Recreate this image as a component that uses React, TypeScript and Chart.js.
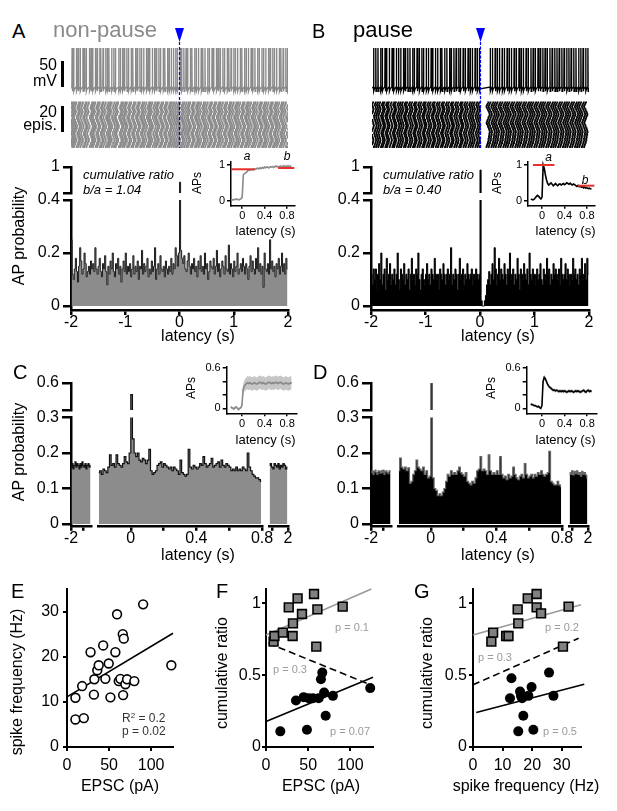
import React, { useEffect, useRef } from "react";
import { Chart, registerables } from "chart.js";

Chart.register(...registerables);

const FONT = "'Liberation Sans', Arial, Helvetica, sans-serif";
Chart.defaults.font.family = FONT;
Chart.defaults.color = "#000";

/* ============================ DATA ============================ */

// A / B : AP probability histograms, 20 ms bins from -2 s to 2 s
const PSTH_START = -2;
const PSTH_BIN = 0.02;
const A_PSTH = [
  0.25, 0.12, 0.10, 0.14, 0.18, 0.13, 0.09, 0.15, 0.22, 0.17,
  0.12, 0.14, 0.20, 0.16, 0.11, 0.13, 0.15, 0.12, 0.17, 0.14,
  0.16, 0.13, 0.22, 0.14, 0.12, 0.15, 0.18, 0.13, 0.11, 0.16,
  0.14, 0.19, 0.13, 0.08, 0.15, 0.12, 0.17, 0.14, 0.20, 0.13,
  0.11, 0.16, 0.14, 0.18, 0.12, 0.15, 0.09, 0.14, 0.17, 0.13,
  0.20, 0.12, 0.15, 0.13, 0.16, 0.11, 0.14, 0.19, 0.12, 0.15,
  0.13, 0.17, 0.10, 0.15, 0.14, 0.21, 0.12, 0.16, 0.13, 0.15,
  0.18, 0.11, 0.14, 0.12, 0.17, 0.13, 0.15, 0.22, 0.10, 0.14,
  0.16, 0.12, 0.19, 0.14, 0.13, 0.15, 0.11, 0.17, 0.14, 0.12,
  0.15, 0.13, 0.18, 0.12, 0.16, 0.14, 0.22, 0.19, 0.15, 0.20,
  0.65, 0.21, 0.18, 0.16, 0.19, 0.14, 0.13, 0.17, 0.20, 0.15,
  0.12, 0.16, 0.14, 0.18, 0.13, 0.15, 0.11, 0.17, 0.14, 0.19,
  0.13, 0.15, 0.12, 0.20, 0.14, 0.16, 0.10, 0.13, 0.17, 0.15,
  0.14, 0.18, 0.12, 0.15, 0.21, 0.13, 0.16, 0.11, 0.14, 0.17,
  0.15, 0.12, 0.19, 0.14, 0.13, 0.23, 0.12, 0.16, 0.14, 0.11,
  0.17, 0.13, 0.15, 0.20, 0.12, 0.14, 0.16, 0.13, 0.18, 0.15,
  0.12, 0.16, 0.14, 0.10, 0.15, 0.19, 0.13, 0.17, 0.14, 0.12,
  0.18, 0.14, 0.22, 0.13, 0.16, 0.12, 0.15, 0.07, 0.20, 0.14,
  0.13, 0.16, 0.12, 0.25, 0.14, 0.17, 0.13, 0.15, 0.11, 0.16,
  0.14, 0.18, 0.12, 0.15, 0.20, 0.13, 0.16, 0.12, 0.18, 0.14,
];
const B_PSTH = [
  0.12, 0.08, 0.14, 0.10, 0.14, 0.06, 0.12, 0.16, 0.10, 0.20,
  0.08, 0.12, 0.14, 0.06, 0.18, 0.10, 0.12, 0.16, 0.08, 0.12,
  0.10, 0.14, 0.08, 0.12, 0.20, 0.10, 0.06, 0.14, 0.12, 0.10,
  0.16, 0.08, 0.12, 0.10, 0.14, 0.06, 0.12, 0.18, 0.10, 0.12,
  0.08, 0.14, 0.12, 0.20, 0.10, 0.06, 0.12, 0.14, 0.10, 0.08,
  0.12, 0.16, 0.10, 0.12, 0.08, 0.14, 0.12, 0.10, 0.18, 0.12,
  0.10, 0.12, 0.06, 0.14, 0.12, 0.10, 0.16, 0.12, 0.08, 0.12,
  0.14, 0.10, 0.12, 0.22, 0.08, 0.12, 0.10, 0.14, 0.12, 0.06,
  0.12, 0.18, 0.10, 0.12, 0.14, 0.08, 0.12, 0.10, 0.16, 0.12,
  0.10, 0.12, 0.14, 0.08, 0.12, 0.10, 0.14, 0.12, 0.10, 0.12,
  0.93, 0.02, 0.00, 0.00, 0.02, 0.04, 0.08, 0.10, 0.13, 0.08,
  0.12, 0.16, 0.10, 0.22, 0.14, 0.08, 0.12, 0.18, 0.10, 0.14,
  0.12, 0.10, 0.16, 0.12, 0.08, 0.14, 0.12, 0.20, 0.10, 0.12,
  0.14, 0.08, 0.12, 0.10, 0.18, 0.12, 0.06, 0.14, 0.12, 0.10,
  0.16, 0.12, 0.10, 0.14, 0.08, 0.20, 0.12, 0.10, 0.14, 0.12,
  0.08, 0.12, 0.14, 0.10, 0.12, 0.16, 0.10, 0.08, 0.14, 0.12,
  0.10, 0.18, 0.12, 0.14, 0.08, 0.12, 0.10, 0.16, 0.12, 0.14,
  0.12, 0.10, 0.14, 0.08, 0.18, 0.12, 0.10, 0.12, 0.16, 0.10,
  0.14, 0.12, 0.08, 0.12, 0.10, 0.18, 0.12, 0.14, 0.10, 0.12,
  0.08, 0.14, 0.12, 0.18, 0.10, 0.12, 0.16, 0.10, 0.18, 0.12,
];

// C / D : population histograms, broken latency axis (3 segments)
const SEG1_START = -2;
const SEG1_BIN = 0.04;
const SEG2_START = -0.2;
const SEG2_BIN = 0.01;
const SEG3_START = 1.4;
const SEG3_BIN = 0.04;
const C_SEG1 = [0.16, 0.17, 0.155, 0.165, 0.175, 0.16, 0.17, 0.165, 0.155, 0.17, 0.16, 0.175, 0.165, 0.16, 0.17, 0.155, 0.165, 0.17, 0.16, 0.165];
const C_SEG2 = [
  0.145, 0.15, 0.14, 0.155, 0.15, 0.145, 0.16, 0.195, 0.165, 0.17,
  0.16, 0.195, 0.17, 0.165, 0.16, 0.17, 0.19, 0.175, 0.17, 0.2,
  0.47, 0.24, 0.2, 0.19, 0.2, 0.18, 0.175, 0.185, 0.18, 0.17,
  0.18, 0.21, 0.15, 0.14, 0.145, 0.15, 0.165, 0.17, 0.175, 0.16,
  0.17, 0.165, 0.16, 0.155, 0.16, 0.15, 0.16, 0.155, 0.15, 0.14,
  0.18, 0.145, 0.14, 0.135, 0.14, 0.21, 0.16, 0.155, 0.165, 0.16,
  0.155, 0.16, 0.17, 0.165, 0.19, 0.17, 0.16, 0.165, 0.17, 0.185,
  0.16, 0.165, 0.17, 0.175, 0.16, 0.18, 0.165, 0.16, 0.17, 0.165,
  0.16, 0.15, 0.155, 0.15, 0.16, 0.15, 0.155, 0.15, 0.16, 0.155,
  0.15, 0.2, 0.16, 0.15, 0.14, 0.135, 0.13, 0.13, 0.125, 0.12,
];
const C_SEG3 = [0.165, 0.17, 0.16, 0.155, 0.17, 0.165, 0.16, 0.17, 0.155, 0.165, 0.16, 0.17, 0.165, 0.155, 0.16];
const D_SEG1 = [0.145, 0.15, 0.14, 0.148, 0.152, 0.145, 0.14, 0.15, 0.148, 0.143, 0.15, 0.145, 0.152, 0.14, 0.148, 0.15, 0.145, 0.142, 0.15, 0.148];
const D_SEG2 = [
  0.15, 0.186, 0.16, 0.155, 0.16, 0.15, 0.158, 0.115, 0.12, 0.14,
  0.15, 0.18, 0.16, 0.155, 0.15, 0.16, 0.14, 0.15, 0.13, 0.135,
  0.6, 0.13, 0.1, 0.095, 0.08, 0.085, 0.08, 0.09, 0.1, 0.12,
  0.14, 0.135, 0.15, 0.14, 0.145, 0.14, 0.15, 0.16, 0.145, 0.14,
  0.135, 0.145, 0.12, 0.115, 0.11, 0.12, 0.115, 0.13, 0.15, 0.155,
  0.19, 0.15, 0.155, 0.15, 0.14, 0.195, 0.15, 0.14, 0.145, 0.14,
  0.15, 0.14, 0.19, 0.14, 0.13, 0.135, 0.125, 0.14, 0.13, 0.135,
  0.16, 0.14, 0.13, 0.125, 0.135, 0.14, 0.13, 0.17, 0.14, 0.13,
  0.135, 0.14, 0.13, 0.14, 0.135, 0.145, 0.14, 0.15, 0.14, 0.135,
  0.14, 0.145, 0.205, 0.12, 0.115, 0.11, 0.11, 0.12, 0.11, 0.105,
];
const D_SEG3 = [0.145, 0.14, 0.15, 0.138, 0.148, 0.142, 0.15, 0.14, 0.145, 0.135, 0.148, 0.14, 0.145, 0.138, 0.13];

// insets: cumulative APs, 20 ms steps from -0.2 s
const INSET_START = -0.2;
const INSET_STEP = 0.02;
const A_CUM = [
  0.02, 0.03, 0.02, 0.04, 0.03, 0.05, 0.03, 0.02, 0.04, 0.06,
  0.10, 0.72, 0.76, 0.78, 0.80, 0.84, 0.86, 0.85, 0.87, 0.88,
  0.86, 0.89, 0.88, 0.90, 0.91, 0.89, 0.92, 0.90, 0.93, 0.91,
  0.94, 0.92, 0.95, 0.93, 0.92, 0.95, 0.94, 0.96, 0.93, 0.95,
  0.97, 0.95, 0.96, 0.94, 0.97, 0.95, 0.96, 0.98, 0.95, 0.97,
  0.96, 0.98, 0.95, 0.97, 0.96,
];
const B_CUM = [
  0.05, 0.03, 0.02, 0.04, 0.08, 0.12, 0.15, 0.12, 0.08, 0.05,
  0.10, 1.00, 0.90, 0.72, 0.58, 0.48, 0.44, 0.47, 0.50, 0.46,
  0.42, 0.45, 0.48, 0.44, 0.42, 0.46, 0.47, 0.44, 0.46, 0.48,
  0.45, 0.47, 0.50, 0.48, 0.46, 0.49, 0.46, 0.44, 0.47, 0.45,
  0.42, 0.40, 0.43, 0.39, 0.41, 0.38, 0.40, 0.36, 0.38, 0.35,
  0.36, 0.34, 0.35, 0.33, 0.34,
];
const C_CUM = [
  0.02, 0.01, 0.0, -0.01, 0.01, 0.02, 0.0, -0.02, 0.0, 0.01,
  0.04, 0.28, 0.33, 0.35, 0.37, 0.38, 0.37, 0.38, 0.37, 0.36,
  0.37, 0.38, 0.37, 0.36, 0.37, 0.38, 0.39, 0.38, 0.37, 0.38,
  0.37, 0.36, 0.37, 0.38, 0.39, 0.38, 0.37, 0.38, 0.37, 0.38,
  0.39, 0.38, 0.37, 0.38, 0.39, 0.38, 0.37, 0.36, 0.37, 0.38,
  0.37, 0.36, 0.37, 0.38, 0.37,
];
const C_SEM = [
  0.02, 0.02, 0.02, 0.02, 0.02, 0.02, 0.02, 0.02, 0.02, 0.02,
  0.03, 0.07, 0.08, 0.09, 0.09, 0.10, 0.10, 0.10, 0.10, 0.10,
  0.10, 0.10, 0.10, 0.10, 0.10, 0.10, 0.10, 0.10, 0.10, 0.10,
  0.10, 0.10, 0.10, 0.10, 0.10, 0.10, 0.10, 0.10, 0.10, 0.10,
  0.10, 0.10, 0.10, 0.10, 0.10, 0.10, 0.10, 0.10, 0.10, 0.10,
  0.10, 0.10, 0.10, 0.10, 0.10,
];
const D_CUM = [
  0.05, 0.06, 0.05, 0.04, 0.04, 0.03, 0.02, 0.03, 0.01, 0.0,
  0.04, 0.40, 0.46, 0.44, 0.40, 0.36, 0.33, 0.31, 0.30, 0.28,
  0.27, 0.27, 0.26, 0.27, 0.26, 0.25, 0.26, 0.25, 0.26, 0.25,
  0.26, 0.25, 0.24, 0.25, 0.26, 0.25, 0.26, 0.25, 0.24, 0.25,
  0.26, 0.25, 0.26, 0.25, 0.24, 0.25, 0.26, 0.27, 0.25, 0.24,
  0.26, 0.27, 0.25, 0.26, 0.25,
];
const D_SEM = [
  0.015, 0.015, 0.015, 0.015, 0.015, 0.015, 0.015, 0.015, 0.015, 0.015,
  0.02, 0.04, 0.04, 0.035, 0.03, 0.03, 0.025, 0.025, 0.025, 0.025,
  0.025, 0.025, 0.025, 0.025, 0.025, 0.025, 0.025, 0.025, 0.025, 0.025,
  0.025, 0.025, 0.025, 0.025, 0.025, 0.025, 0.025, 0.025, 0.025, 0.025,
  0.025, 0.025, 0.025, 0.025, 0.025, 0.025, 0.025, 0.025, 0.025, 0.025,
  0.025, 0.025, 0.025, 0.025, 0.025,
];
// measurement windows [from, to, level]
const A_WIN_A = [-0.2, 0.22, 0.88];
const A_WIN_B = [0.64, 0.93, 0.915];
const B_WIN_A = [-0.16, 0.22, 1.0];
const B_WIN_B = [0.64, 0.93, 0.42];

// example recordings: spike times (s)
const V_REST = -65;
const V_PEAK = 20;
const A_SPIKES = [
  -1.98, -1.95, -1.90, -1.87, -1.83, -1.78, -1.76, -1.72, -1.66, -1.63, -1.60, -1.55, -1.52, -1.47, -1.45,
  -1.41, -1.36, -1.33, -1.30, -1.25, -1.21, -1.18, -1.12, -1.09, -1.05, -1.02, -0.97, -0.94, -0.89, -0.86,
  -0.81, -0.78, -0.73, -0.70, -0.66, -0.61, -0.58, -0.55, -0.50, -0.46, -0.43, -0.38, -0.35, -0.30, -0.27,
  -0.22, -0.19, -0.15, -0.11, -0.07, -0.04, 0.01, 0.04, 0.08, 0.12, 0.15, 0.20, 0.23, 0.28, 0.31,
  0.35, 0.40, 0.43, 0.47, 0.52, 0.55, 0.60, 0.63, 0.68, 0.71, 0.75, 0.80, 0.83, 0.88, 0.91,
  0.95, 1.00, 1.03, 1.07, 1.12, 1.15, 1.20, 1.23, 1.27, 1.32, 1.35, 1.39, 1.44, 1.47, 1.52,
  1.55, 1.59, 1.64, 1.67, 1.72, 1.75, 1.79, 1.84, 1.87, 1.91, 1.96, 1.99,
];
const B_SPIKES_PRE = [
  -1.97, -1.93, -1.89, -1.84, -1.81, -1.76, -1.73, -1.68, -1.63, -1.60, -1.55, -1.51, -1.47, -1.42, -1.39,
  -1.34, -1.30, -1.25, -1.22, -1.17, -1.13, -1.08, -1.05, -1.00, -0.96, -0.91, -0.88, -0.83, -0.79, -0.74,
  -0.71, -0.66, -0.62, -0.57, -0.54, -0.49, -0.45, -0.40, -0.37, -0.32, -0.28, -0.23, -0.19, -0.15, -0.10,
  -0.06, -0.02,
];
const B_SPIKES_POST = [
  0.18, 0.22, 0.27, 0.31, 0.35, 0.40, 0.44, 0.49, 0.53, 0.57, 0.62, 0.66, 0.71, 0.75, 0.79,
  0.84, 0.88, 0.93, 0.97, 1.01, 1.06, 1.10, 1.15, 1.19, 1.23, 1.28, 1.32, 1.37, 1.41, 1.45,
  1.50, 1.54, 1.59, 1.63, 1.67, 1.72, 1.76, 1.81, 1.85, 1.89, 1.94, 1.98,
];
// raster episodes: time offset of each episode's spike train (s)
const A_RASTER_SHIFT = [
  0.004, 0.010, 0.029, 0.027, 0.049, 0.048, 0.051, 0.034, 0.033, 0.017, 0.019, 0.021, 0.040, 0.039, 0.058, 0.059, 0.062,
  0.045, 0.044, 0.026, 0.025, 0.008, 0.007, 0.010, 0.031, 0.032, 0.049, 0.036, 0.031, 0.016, 0.029, 0.034, 0.048, 0.050,
];
const B_RASTER_SHIFT_PRE = [
  0.006, 0.015, 0.022, 0.034, 0.039, 0.047, 0.041, 0.036, 0.025, 0.021, 0.010, 0.016, 0.027, 0.031, 0.044, 0.049, 0.056,
  0.046, 0.043, 0.031, 0.028, 0.014, 0.012, 0.005, 0.018, 0.022, 0.037, 0.041, 0.050, 0.038, 0.035, 0.020, 0.027, 0.040,
];
const B_RASTER_SHIFT_POST = [
  -0.070, -0.061, -0.055, -0.043, -0.040, -0.028, -0.033, -0.022, -0.025, -0.013, -0.017, -0.006, -0.012, -0.020, -0.027, -0.041, -0.046,
  -0.060, -0.068, -0.057, -0.049, -0.036, -0.031, -0.018, -0.009, -0.015, -0.024, -0.039, -0.047, -0.063, -0.071, -0.060, -0.048, -0.035,
];

// E : spike frequency vs EPSC
const E_EPSC = [10, 20, 10, 18, 28, 32, 32.5, 36, 37.7, 43, 45.6, 49.6, 51.6, 57.5, 59.5, 61.5, 63.5, 66.3, 67.5, 66.7, 69.4, 71.4, 80, 90.5, 124];
const E_FREQ = [6.1, 6.4, 10.9, 13.5, 21, 11.6, 15, 17, 18.1, 22.5, 15.1, 18.5, 11, 21, 29.4, 14.6, 15.1, 25, 24, 11.5, 13.9, 15, 14.6, 31.6, 18.1];
const E_FIT_X = [0, 126];
const E_FIT_Y = [11.1, 25.2];

// F : cumulative ratio vs EPSC (squares = non-pause, circles = pause)
const F_SQ_EPSC = [9, 10, 20, 27, 31.6, 32, 37.5, 42.7, 57, 59.7, 61, 91];
const F_SQ_RATIO = [0.734, 0.773, 0.796, 0.972, 0.773, 0.861, 1.035, 0.926, 1.065, 0.699, 0.958, 0.977];
const F_CI_EPSC = [17, 48.6, 35.6, 44.7, 50.6, 55.7, 62.5, 65.2, 66.8, 69, 70.8, 79.4, 123.7];
const F_CI_RATIO = [0.109, 0.12, 0.324, 0.347, 0.34, 0.34, 0.34, 0.472, 0.518, 0.38, 0.218, 0.356, 0.41];
const F_FIT_SQ = [[0, 0.78], [125, 1.1]];
const F_FIT_ALL = [[3, 0.722], [124, 0.433]];
const F_FIT_CI = [[0, 0.178], [127, 0.486]];

// G : cumulative ratio vs spike frequency
const G_SQ_FREQ = [6.2, 6.8, 11.2, 12.0, 15.1, 15.3, 18.5, 21.5, 21.5, 23, 30.4, 32.3];
const G_SQ_RATIO = [0.734, 0.796, 0.773, 0.773, 0.958, 0.861, 1.035, 1.065, 0.972, 0.93, 0.699, 0.977];
const G_CI_FREQ = [12.5, 13, 15.3, 15.9, 16.2, 16.6, 17, 18.7, 19.8, 20.4, 25.7, 27.2];
const G_CI_RATIO = [0.34, 0.479, 0.109, 0.387, 0.356, 0.34, 0.218, 0.356, 0.417, 0.12, 0.518, 0.356];
const G_FIT_SQ = [[0, 0.78], [36.5, 0.99]];
const G_FIT_ALL = [[0, 0.433], [35.7, 0.757]];
const G_FIT_CI = [[1.1, 0.24], [37.6, 0.437]];

/* ============================ STYLE ============================ */
const GRAY_FILL = "#8c8c8c";
const GRAY_TRACE = "#8a8a8a";
const SQ_FILL = "#808080";
const FIT_GRAY = "#9a9a9a";
const TXT_GRAY = "#9a9a9a";
const RED = "#e8312a";
const BLUE = "#0000ff";

/* ============================ HELPERS ============================ */
const xy = (xs: number[], ys: number[]) => xs.map((x, i) => ({ x, y: ys[i] }));
const pairs = (p: number[][]) => p.map(([x, y]) => ({ x, y }));
const binned = (vals: number[], start: number, bin: number) => vals.map((v, i) => ({ x: start + bin * (i + 0.5), y: v }));
const sampled = (vals: number[], start: number, step: number) => vals.map((v, i) => ({ x: +(start + step * i).toFixed(3), y: v }));

function ax(o: any) {
  if (o.hide) return { type: "linear", min: o.min, max: o.max, display: false };
  const lw = o.lw ?? 2;
  return {
    type: "linear",
    min: o.min,
    max: o.max,
    display: true,
    position: o.dir === "x" ? "bottom" : "left",
    afterBuildTicks: (s: any) => {
      s.ticks = o.ticks.map((v: number) => ({ value: v }));
    },
    afterFit: (s: any) => {
      if (o.dir === "x") s.height = o.size;
      else s.width = o.size;
    },
    grid: { display: true, drawOnChartArea: false, drawTicks: true, tickLength: o.tick ?? 5, tickWidth: lw, tickColor: "#000", lineWidth: lw, color: "#000" },
    border: { display: true, width: lw, color: "#000" },
    ticks: {
      autoSkip: false,
      maxRotation: 0,
      minRotation: 0,
      padding: o.pad ?? 0,
      color: "#000",
      font: { family: FONT, size: o.font ?? 16, lineHeight: 1 },
      callback: (_v: any, i: number) => o.labels[i],
    },
  };
}

function histDS(vals: number[], start: number, bin: number, fill: string, stroke: string, sw = 1) {
  return {
    type: "line",
    data: binned(vals, start, bin),
    stepped: "middle",
    fill: "origin",
    backgroundColor: fill,
    borderColor: stroke,
    borderWidth: sw,
    pointRadius: 0,
    clip: 0,
  };
}

function lineDS(data: any[], color: string, width = 1.5, dash: number[] = []) {
  return { type: "line", data, borderColor: color, borderWidth: width, borderDash: dash, pointRadius: 0, tension: 0, fill: false, clip: false };
}

function cfg(datasets: any[], scales: any, plugins: any[] = []) {
  return { type: "line", data: { datasets }, options: { scales }, plugins };
}

function tracePts(spikes: number[]) {
  const pts: any[] = [{ x: -2, y: V_REST }];
  for (const t of spikes) {
    pts.push({ x: t - 0.004, y: V_REST + 2 }, { x: t, y: V_PEAK }, { x: t + 0.004, y: V_REST - 7 }, { x: t + 0.015, y: V_REST - 2 });
  }
  pts.push({ x: 2, y: V_REST });
  return pts;
}

function rasterA() {
  const pts: any[] = [];
  A_RASTER_SHIFT.forEach((s, r) =>
    A_SPIKES.forEach((t) => {
      let u = t + s;
      if (u >= 2) u -= 4;
      pts.push({ x: u, y: r });
    })
  );
  return pts;
}

function rasterB() {
  const pts: any[] = [];
  B_RASTER_SHIFT_PRE.forEach((s, r) => {
    B_SPIKES_PRE.forEach((t) => {
      let u = t + s;
      if (u >= 0) u -= 2;
      pts.push({ x: u, y: r });
    });
    B_SPIKES_POST.forEach((t) => pts.push({ x: t + B_RASTER_SHIFT_POST[r], y: r }));
  });
  return pts;
}

const stimMarker = (dash: number[]) => ({
  id: "stimMarker",
  afterDatasetsDraw(chart: any) {
    const { ctx, chartArea, scales } = chart;
    const x = scales.x.getPixelForValue(0);
    ctx.save();
    ctx.strokeStyle = BLUE;
    ctx.lineWidth = 1.2;
    ctx.setLineDash(dash);
    ctx.beginPath();
    ctx.moveTo(x, chartArea.top + 14);
    ctx.lineTo(x, chartArea.bottom - 2);
    ctx.stroke();
    ctx.setLineDash([]);
    ctx.fillStyle = BLUE;
    ctx.beginPath();
    ctx.moveTo(x - 4.5, chartArea.top);
    ctx.lineTo(x + 4.5, chartArea.top);
    ctx.lineTo(x, chartArea.top + 14);
    ctx.closePath();
    ctx.fill();
    ctx.restore();
  },
});

function traceCfg(spikes: number[], raster: any[], color: string, dash: number[]) {
  return cfg(
    [
      { type: "line", data: tracePts(spikes), yAxisID: "yT", borderColor: color, borderWidth: 1.35, pointRadius: 0, tension: 0, fill: false },
      { type: "scatter", data: raster, yAxisID: "yR", pointStyle: "rect", pointRadius: 1.3, pointBorderWidth: 0, pointBackgroundColor: color, backgroundColor: color },
    ],
    {
      x: ax({ hide: true, min: -2, max: 2 }),
      y: ax({ hide: true, min: 0, max: 1 }),
      yT: ax({ hide: true, min: -197, max: 62.5 }),
      yR: ax({ hide: true, min: -2.2, max: 88 }),
    },
    [stimMarker(dash)]
  );
}

function insetCfg(ds: any[], xmin: number, xmax: number, ymin: number, ymax: number, yticks: number[], ylabels: string[], yw: number) {
  return cfg(ds, {
    x: ax({ dir: "x", min: xmin, max: xmax, ticks: [0, 0.4, 0.8], labels: ["0", "0.4", "0.8"], size: 18, tick: 3, pad: 2, font: 11, lw: 1.5 }),
    y: ax({ dir: "y", min: ymin, max: ymax, ticks: yticks, labels: ylabels, size: yw, tick: 4, pad: 2, font: 11, lw: 1.5 }),
  });
}

function bandDS(mean: number[], sem: number[], color: string, band: string) {
  const up = mean.map((m, i) => m + sem[i]);
  const lo = mean.map((m, i) => m - sem[i]);
  return [
    { type: "line", data: sampled(mean, INSET_START, INSET_STEP), borderColor: color, borderWidth: 1.6, pointRadius: 0, tension: 0, fill: false },
    { type: "line", data: sampled(up, INSET_START, INSET_STEP), borderColor: "rgba(0,0,0,0)", borderWidth: 0, pointRadius: 0, tension: 0, fill: "+1", backgroundColor: band },
    { type: "line", data: sampled(lo, INSET_START, INSET_STEP), borderColor: "rgba(0,0,0,0)", borderWidth: 0, pointRadius: 0, tension: 0, fill: false },
  ];
}

const win = (w: number[]) => [{ x: w[0], y: w[2] }, { x: w[1], y: w[2] }];

/* ============================ COMPONENTS ============================ */
function Plot({ area, yw = 0, xh = 0, make }: any) {
  const ref = useRef<HTMLCanvasElement>(null);
  const [x0, y0, x1, y1] = area;
  const left = Math.floor(x0 - yw - 16);
  const top = Math.floor(y0 - 14);
  const right = Math.ceil(x1 + 16);
  const bottom = Math.ceil(y1 + xh + 14);
  const w = right - left;
  const h = bottom - top;
  useEffect(() => {
    const c: any = make();
    c.options = c.options || {};
    Object.assign(c.options, {
      responsive: false,
      animation: false,
      events: [],
      layout: { padding: { left: x0 - yw - left, top: y0 - top, right: right - x1, bottom: bottom - y1 - xh } },
      plugins: { legend: { display: false }, tooltip: { enabled: false }, title: { display: false } },
    });
    const chart = new Chart(ref.current as HTMLCanvasElement, c);
    return () => chart.destroy();
  }, []);
  return <canvas ref={ref} width={w} height={h} style={{ position: "absolute", left, top, width: w, height: h }} />;
}

function T({ x, y, s = 16, c = "#000", it = false, a = "start", children }: any) {
  const tx = a === "middle" ? "translateX(-50%)" : a === "end" ? "translateX(-100%)" : "none";
  return (
    <div
      style={{
        position: "absolute",
        left: x,
        top: y - 0.8467 * s,
        fontSize: s,
        lineHeight: 1,
        color: c,
        fontStyle: it ? "italic" : "normal",
        whiteSpace: "nowrap",
        fontFamily: FONT,
        transform: tx,
      }}
    >
      {children}
    </div>
  );
}

function VT({ cx, cy, s = 16, children }: any) {
  return (
    <div
      style={{
        position: "absolute",
        left: cx - 0.09 * s,
        top: cy,
        fontSize: s,
        lineHeight: 1,
        whiteSpace: "nowrap",
        fontFamily: FONT,
        transform: "translate(-50%, -50%) rotate(-90deg)",
      }}
    >
      {children}
    </div>
  );
}

function Bar({ x, y, w, h }: any) {
  return <div style={{ position: "absolute", left: x, top: y, width: w, height: h, background: "#000" }} />;
}

/* ---------- panel builders ---------- */
function PsthPanel({ dx, vals, fill, stroke }: any) {
  const x0 = 71 + dx;
  const x1 = 288 + dx + (dx ? 1 : 0);
  return (
    <>
      <Plot
        area={[x0, 200, x1, 310]}
        yw={40}
        xh={26}
        make={() =>
          cfg([histDS(vals, PSTH_START, PSTH_BIN, fill, stroke, 1)], {
            x: ax({ dir: "x", min: -2, max: 2, ticks: [-2, -1, 0, 1, 2], labels: ["-2", "-1", "0", "1", "2"], size: 26, tick: 5, pad: 0, lw: 2.5 }),
            y: ax({ dir: "y", min: -0.015, max: 0.4, ticks: [0, 0.2, 0.4], labels: ["0", "0.2", "0.4"], size: 40, tick: 8, pad: 3, lw: 2.5 }),
          })
        }
      />
      <Plot
        area={[x0, 167, x1, 193]}
        yw={40}
        make={() =>
          cfg([histDS(vals, PSTH_START, PSTH_BIN, fill, stroke, 1)], {
            x: ax({ hide: true, min: -2, max: 2 }),
            y: ax({ dir: "y", min: 0.4, max: 1, ticks: [0.4, 1], labels: ["", "1"], size: 40, tick: 8, pad: 3, lw: 2.5 }),
          })
        }
      />
    </>
  );
}

function BrokenPanel({ dx, s1, s2, s3, fill, stroke }: any) {
  const yLo = -0.005;
  const yTop = 417.5;
  const yBot = 525.8;
  const seg2Px = 164; // px per second in the middle segment
  const upMin = 0.8 - (262 - 71) / seg2Px;
  return (
    <>
      <Plot
        area={[71 + dx, yTop, 91 + dx, yBot]}
        yw={44}
        xh={26}
        make={() =>
          cfg([histDS(s1, SEG1_START, SEG1_BIN, fill, stroke, 1.2)], {
            x: ax({ dir: "x", min: -2, max: -1.2, ticks: [-2, -1.5], labels: ["-2", ""], size: 26, tick: 5, pad: 0, lw: 2.5 }),
            y: ax({ dir: "y", min: yLo, max: 0.3, ticks: [0, 0.1, 0.2, 0.3], labels: ["0", "0.1", "0.2", "0.3"], size: 44, tick: 9, pad: 3, lw: 2.5 }),
          })
        }
      />
      <Plot
        area={[98 + dx, yTop, 262 + dx, yBot]}
        xh={26}
        make={() =>
          cfg([histDS(s2, SEG2_START, SEG2_BIN, fill, stroke, 1.2)], {
            x: ax({ dir: "x", min: -0.2, max: 0.8, ticks: [0, 0.2, 0.4, 0.6, 0.8], labels: ["0", "", "0.4", "", "0.8"], size: 26, tick: 5, pad: 0, lw: 2.5 }),
            y: ax({ hide: true, min: yLo, max: 0.3 }),
          })
        }
      />
      <Plot
        area={[269 + dx, yTop, 288 + dx, yBot]}
        xh={26}
        make={() =>
          cfg([histDS(s3, SEG3_START, SEG3_BIN, fill, stroke, 1.2)], {
            x: ax({ dir: "x", min: 1.4, max: 2, ticks: [1.5, 2], labels: ["", "2"], size: 26, tick: 5, pad: 0, lw: 2.5 }),
            y: ax({ hide: true, min: yLo, max: 0.3 }),
          })
        }
      />
      <Plot
        area={[71 + dx, 383, 262 + dx, 410]}
        yw={44}
        make={() =>
          cfg([histDS(s2, SEG2_START, SEG2_BIN, fill, stroke, 1.2)], {
            x: ax({ hide: true, min: upMin, max: 0.8 }),
            y: ax({ dir: "y", min: 0.3, max: 0.6, ticks: [0.3, 0.6], labels: ["", "0.6"], size: 44, tick: 9, pad: 3, lw: 2.5 }),
          })
        }
      />
    </>
  );
}

function scatterAxes(xmax: number, xticks: number[], ymax: number, yticks: number[], ylabels: string[], ypad: number, yw: number) {
  return {
    x: ax({ dir: "x", min: 0, max: xmax, ticks: xticks, labels: xticks.map(String), size: 28, tick: 4, pad: 7, lw: 2 }),
    y: ax({ dir: "y", min: 0, max: ymax, ticks: yticks, labels: ylabels, size: yw, tick: 4, pad: ypad, lw: 2 }),
  };
}

const squares = (data: any[]) => ({
  type: "scatter",
  data,
  pointStyle: "rect",
  pointRadius: 6.2,
  pointBorderWidth: 1.6,
  pointBackgroundColor: SQ_FILL,
  pointBorderColor: "#000",
  clip: false,
});
const dots = (data: any[]) => ({
  type: "scatter",
  data,
  pointStyle: "circle",
  pointRadius: 5,
  pointBorderWidth: 0,
  pointBackgroundColor: "#000",
  clip: false,
});

/* ============================ APP ============================ */
export default function App() {
  return (
    <div style={{ position: "absolute", left: 0, top: 0, width: 617, height: 811, background: "#fff", overflow: "hidden", fontFamily: FONT }}>
      {/* ---- A / B traces and rasters ---- */}
      <Plot area={[71, 28, 288, 150]} make={() => traceCfg(A_SPIKES, rasterA(), GRAY_TRACE, [3, 2])} />
      <Plot area={[372, 28, 589, 150]} make={() => traceCfg([...B_SPIKES_PRE, ...B_SPIKES_POST], rasterB(), "#000", [3, 1.5])} />

      {/* ---- A / B histograms ---- */}
      <PsthPanel dx={0} vals={A_PSTH} fill={GRAY_FILL} stroke="#1c1c1c" />
      <PsthPanel dx={300} vals={B_PSTH} fill="#000" stroke="#000" />

      {/* ---- A / B insets ---- */}
      <Plot
        area={[231, 161.4, 294.3, 205.7]}
        yw={18}
        xh={18}
        make={() =>
          insetCfg(
            [lineDS(win(A_WIN_A), RED, 2), lineDS(win(A_WIN_B), RED, 2), lineDS(sampled(A_CUM, INSET_START, INSET_STEP), GRAY_TRACE, 1.6)],
            -0.2, 0.93, -0.14, 1.1, [0, 1], ["0", "1"], 18
          )
        }
      />
      <Plot
        area={[528, 161.4, 594.3, 205.7]}
        yw={18}
        xh={18}
        make={() =>
          insetCfg(
            [lineDS(win(B_WIN_A), RED, 2), lineDS(win(B_WIN_B), RED, 2), lineDS(sampled(B_CUM, INSET_START, INSET_STEP), "#000", 1.6)],
            -0.25, 0.93, -0.14, 1.1, [0, 1], ["0", "1"], 18
          )
        }
      />

      {/* ---- C / D broken histograms ---- */}
      <BrokenPanel dx={0} s1={C_SEG1} s2={C_SEG2} s3={C_SEG3} fill={GRAY_FILL} stroke="#111" />
      <BrokenPanel dx={300} s1={D_SEG1} s2={D_SEG2} s3={D_SEG3} fill="#000" stroke="#666" />

      {/* ---- C / D insets ---- */}
      <Plot
        area={[226.7, 366.7, 296.7, 413.3]}
        yw={26}
        xh={18}
        make={() => insetCfg(bandDS(C_CUM, C_SEM, GRAY_TRACE, "#c6c6c6"), -0.27, 0.97, -0.075, 0.62, [0, 0.2, 0.4, 0.6], ["0", "", "", "0.6"], 26)}
      />
      <Plot
        area={[526.7, 366.7, 596.7, 413.3]}
        yw={26}
        xh={18}
        make={() => insetCfg(bandDS(D_CUM, D_SEM, "#000", "#b8b8b8"), -0.27, 0.97, -0.075, 0.62, [0, 0.2, 0.4, 0.6], ["0", "", "", "0.6"], 26)}
      />

      {/* ---- E / F / G scatter ---- */}
      <Plot
        area={[67, 589, 173, 747]}
        yw={30}
        xh={28}
        make={() =>
          cfg(
            [
              { type: "scatter", data: xy(E_EPSC, E_FREQ), pointStyle: "circle", pointRadius: 4.4, pointBorderWidth: 1.6, pointBackgroundColor: "#fff", pointBorderColor: "#000", clip: false },
              lineDS(xy(E_FIT_X, E_FIT_Y), "#000", 1.6),
            ],
            scatterAxes(126, [0, 50, 100], 35, [0, 10, 20, 30], ["0", "10", "20", "30"], 4, 30)
          )
        }
      />
      <Plot
        area={[266, 589, 373, 747]}
        yw={34}
        xh={28}
        make={() =>
          cfg(
            [
              squares(xy(F_SQ_EPSC, F_SQ_RATIO)),
              dots(xy(F_CI_EPSC, F_CI_RATIO)),
              lineDS(pairs(F_FIT_SQ), FIT_GRAY, 1.6),
              lineDS(pairs(F_FIT_ALL), "#000", 1.6, [7, 4]),
              lineDS(pairs(F_FIT_CI), "#000", 1.6),
            ],
            scatterAxes(127, [0, 50, 100], 1.1, [0, 0.5, 1], ["0", "0.5", "1"], 1, 34)
          )
        }
      />
      <Plot
        area={[473, 589, 581, 747]}
        yw={34}
        xh={28}
        make={() =>
          cfg(
            [
              squares(xy(G_SQ_FREQ, G_SQ_RATIO)),
              dots(xy(G_CI_FREQ, G_CI_RATIO)),
              lineDS(pairs(G_FIT_SQ), FIT_GRAY, 1.6),
              lineDS(pairs(G_FIT_ALL), "#000", 1.6, [7, 4]),
              lineDS(pairs(G_FIT_CI), "#000", 1.6),
            ],
            scatterAxes(36.5, [0, 10, 20, 30], 1.1, [0, 0.5, 1], ["0", "0.5", "1"], 2, 34)
          )
        }
      />

      {/* ---- text: top ---- */}
      <T x={12} y={37.5} s={20}>A</T>
      <T x={53} y={38} s={22} c="#8a8a8a">non-pause</T>
      <T x={312} y={37.5} s={20}>B</T>
      <T x={353} y={38} s={22}>pause</T>
      <T x={57} y={71} s={16} a="end">50</T>
      <T x={57} y={87} s={16} a="end">mV</T>
      <T x={57} y={118} s={16} a="end">20</T>
      <T x={57} y={130.5} s={16} a="end">epis.</T>
      <Bar x={61} y={61} w={3} h={25.5} />
      <Bar x={61} y={106} w={3} h={26} />

      <T x={83} y={179} s={13} it>cumulative ratio</T>
      <T x={83} y={194} s={13} it>b/a = 1.04</T>
      <T x={383} y={179} s={13} it>cumulative ratio</T>
      <T x={383} y={194} s={13} it>b/a = 0.40</T>

      <T x={247} y={160} s={12} it a="middle">a</T>
      <T x={287} y={160} s={12} it a="middle">b</T>
      <T x={548.5} y={161.5} s={12} it a="middle">a</T>
      <T x={585} y={184.5} s={12} it a="middle">b</T>
      <VT cx={198} cy={183} s={12}>APs</VT>
      <VT cx={498} cy={183} s={12}>APs</VT>
      <T x={265.5} y={235} s={13} a="middle">latency (s)</T>
      <T x={565.5} y={235} s={13} a="middle">latency (s)</T>

      <VT cx={20.5} cy={236} s={16}>AP probability</VT>
      <T x={198} y={342} s={16} a="middle">latency (s)</T>
      <T x={498} y={342} s={16} a="middle">latency (s)</T>

      {/* ---- text: C / D ---- */}
      <T x={13} y={378.5} s={20}>C</T>
      <T x={313} y={378.5} s={20}>D</T>
      <VT cx={192} cy={388} s={12}>APs</VT>
      <VT cx={492} cy={388} s={12}>APs</VT>
      <T x={265.5} y={444.5} s={13} a="middle">latency (s)</T>
      <T x={565.5} y={444.5} s={13} a="middle">latency (s)</T>
      <VT cx={20.5} cy={452} s={16}>AP probability</VT>
      <T x={198} y={560.5} s={16} a="middle">latency (s)</T>
      <T x={498} y={560.5} s={16} a="middle">latency (s)</T>

      {/* ---- text: E / F / G ---- */}
      <T x={11} y={598} s={20}>E</T>
      <T x={216} y={598} s={20}>F</T>
      <T x={414} y={598} s={20}>G</T>
      <VT cx={18.5} cy={682} s={16}>spike frequency (Hz)</VT>
      <VT cx={223} cy={673} s={16}>cumulative ratio</VT>
      <VT cx={428} cy={673} s={16}>cumulative ratio</VT>
      <T x={120} y={791.5} s={16} a="middle">EPSC (pA)</T>
      <T x={321} y={791.5} s={16} a="middle">EPSC (pA)</T>
      <T x={526} y={791.5} s={16} a="middle">spike frequency (Hz)</T>

      <T x={122} y={722} s={12} c="#333">
        R<span style={{ fontSize: 8, position: "relative", top: -4 }}>2</span> = 0.2
      </T>
      <T x={122} y={735.5} s={12} c="#333">p = 0.02</T>
      <T x={335} y={631} s={11} c={TXT_GRAY}>p = 0.1</T>
      <T x={273} y={673} s={11} c={TXT_GRAY}>p = 0.3</T>
      <T x={330} y={735} s={11} c={TXT_GRAY}>p = 0.07</T>
      <T x={545} y={631} s={11} c={TXT_GRAY}>p = 0.2</T>
      <T x={478} y={661.5} s={11} c={TXT_GRAY}>p = 0.3</T>
      <T x={543} y={735} s={11} c={TXT_GRAY}>p = 0.5</T>
    </div>
  );
}
